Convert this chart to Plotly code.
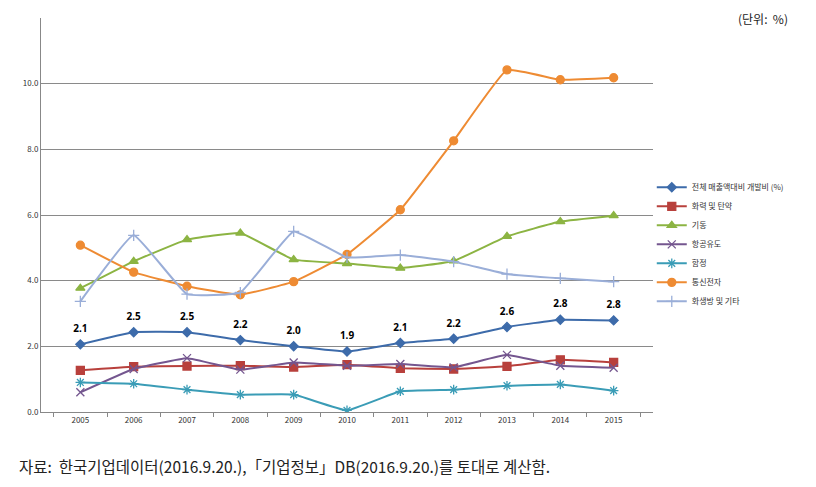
import plotly.graph_objects as go

years = ["2005", "2006", "2007", "2008", "2009", "2010", "2011", "2012", "2013", "2014", "2015"]

total = [2.06, 2.43, 2.43, 2.19, 2.00, 1.84, 2.10, 2.23, 2.59, 2.81, 2.79]
total_labels = ["2.1", "2.5", "2.5", "2.2", "2.0", "1.9", "2.1", "2.2", "2.6", "2.8", "2.8"]
firepower = [1.27, 1.38, 1.40, 1.41, 1.37, 1.44, 1.33, 1.31, 1.39, 1.59, 1.51]
maneuver = [3.77, 4.59, 5.25, 5.45, 4.64, 4.52, 4.38, 4.60, 5.35, 5.80, 5.98]
aero = [0.60, 1.31, 1.64, 1.29, 1.51, 1.41, 1.46, 1.36, 1.74, 1.41, 1.35]
naval = [0.90, 0.86, 0.68, 0.53, 0.53, 0.05, 0.63, 0.68, 0.80, 0.84, 0.65]
telecom = [5.08, 4.26, 3.83, 3.57, 3.97, 4.80, 6.16, 8.26, 10.42, 10.12, 10.18]
cbr = [3.37, 5.38, 3.59, 3.64, 5.50, 4.71, 4.78, 4.58, 4.20, 4.07, 3.97]

series = [
    ("전체 매출액대비 개발비 (%)", total, "#3D6BAA", "diamond", 7),
    ("화력 및 탄약", firepower, "#B8403C", "square", 8),
    ("기동", maneuver, "#8CB443", "triangle-up", 8),
    ("항공유도", aero, "#74568F", "x-thin-open", 8),
    ("함정", naval, "#3A9CB6", "asterisk-open", 8),
    ("통신전자", telecom, "#EE8B33", "circle", 8),
    ("화생방 및 기타", cbr, "#9AAED8", "cross-thin-open", 8),
]

fig = go.Figure()
for name, vals, color, sym, size in series:
    fig.add_trace(go.Scatter(
        x=years, y=vals, name=name, mode="lines+markers",
        line=dict(color=color, width=2, shape="spline", smoothing=0.3),
        marker=dict(symbol=sym, size=size, color=color, line=dict(color=color, width=1.3)),
    ))

# data labels on the total series (invisible marker pushes the text up)
fig.add_trace(go.Scatter(
    x=years, y=total, mode="markers+text", text=total_labels,
    texttemplate="<b>%{text}</b>", textposition="top center",
    marker=dict(size=14, opacity=0),
    textfont=dict(size=10, color="black", family="Noto Sans"),
    showlegend=False, hoverinfo="skip", cliponaxis=False,
))

# page body keeps its 8px margin, so the figure is 8px smaller
fig.update_layout(
    width=808, height=479,
    margin=dict(l=33, r=163, t=10, b=75),
    paper_bgcolor="white", plot_bgcolor="white",
    font=dict(family="Noto Sans CJK KR", size=8, color="#333"),
    showlegend=True,
    legend=dict(x=0.998, y=0.607, xanchor="left", yanchor="top",
                font=dict(size=8, color="#333"), tracegroupgap=0,
                itemwidth=30, bgcolor="rgba(0,0,0,0)"),
    xaxis=dict(type="category", showgrid=False, showline=True, linecolor="#888",
               ticks="outside", tickson="boundaries", ticklen=4, tickcolor="#888",
               tickfont=dict(size=8, color="#333")),
    yaxis=dict(range=[0, 12], tickvals=[0, 2, 4, 6, 8, 10], tickformat=".1f",
               showgrid=True, gridcolor="#8a8a8a", gridwidth=1,
               showline=True, linecolor="#888", zeroline=False,
               ticks="", tickfont=dict(size=8, color="#333")),
    annotations=[
        dict(text="(단위:  %)", xref="paper", yref="paper", x=1.224, y=1.0,
             xanchor="right", yanchor="middle", showarrow=False,
             font=dict(size=12, color="#222", family="Noto Sans CJK KR")),
        dict(text="자료:  한국기업데이터(2016.9.20.),「기업정보」DB(2016.9.20.)를 토대로 계산함.",
             xref="paper", yref="paper", x=-0.04, y=-0.105,
             xanchor="left", yanchor="top", showarrow=False,
             font=dict(size=15.5, color="#222", family="Noto Sans CJK KR")),
    ],
)

fig.write_html("out.html")
